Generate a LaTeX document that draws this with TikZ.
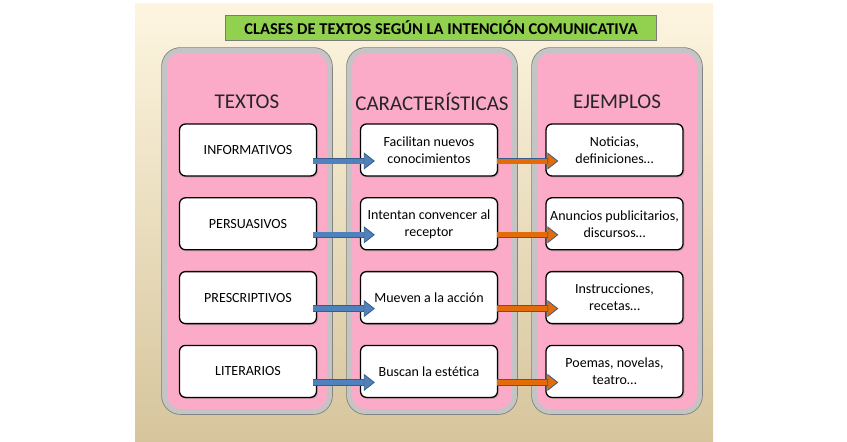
\documentclass[tikz,border=0pt]{standalone}
\usepackage{fontspec}
\setmainfont{Carlito}
\usetikzlibrary{arrows.meta,positioning,shadows}

\definecolor{bgtop}{HTML}{FDF5E0}
\definecolor{bgbot}{HTML}{D6C59C}
\definecolor{titlegreen}{HTML}{92D050}
\definecolor{pinkfill}{HTML}{FBABC8}
\definecolor{colgray}{HTML}{C4C4C4}
\definecolor{colline}{HTML}{7A7A7A}
\definecolor{bluefill}{HTML}{4F81BD}
\definecolor{blueline}{HTML}{385D8A}
\definecolor{orangefill}{HTML}{E36C09}

\begin{document}
\begin{tikzpicture}[x=1pt, y=-1pt, every node/.style={font=\fontsize{14}{17}\selectfont},
  colbox/.style={draw=colgray, line width=5pt, fill=pinkfill, rounded corners=16pt, minimum width=165pt, minimum height=361pt,
    preaction={draw=colline, line width=6.5pt}},
  head/.style={font=\fontsize{21}{24}\selectfont, text=black!85},
  item/.style={draw, line width=1.3pt, rounded corners=6pt, fill=white, align=center, minimum width=137pt, minimum height=52pt,
    drop shadow={opacity=0.3, shadow xshift=1.5pt, shadow yshift=-1.5pt}},
  barrow/.style={draw=blueline, line width=0.8pt, double=bluefill, double distance=5pt, -{Triangle[length=11pt, width=17pt, fill=bluefill]}},
  oarrow/.style={draw=blueline, line width=0.8pt, double=orangefill, double distance=5pt, -{Triangle[length=11pt, width=17pt, fill=orangefill]}}]
\useasboundingbox (0,0) rectangle (847,442);
\shade[top color=bgtop, bottom color=bgbot] (135,3) rectangle (713,442);
\node[draw=colline, fill=titlegreen, minimum width=431pt, minimum height=25pt, font=\bfseries\fontsize{16.5}{18}\selectfont] (title) at (441,28) {CLASES DE TEXTOS SEGÚN LA INTENCIÓN COMUNICATIVA};
\node[colbox] (col1) at (247,231) {};
\node[colbox] (col2) at (432,231) {};
\node[colbox] (col3) at (617,231) {};
\node[head] (htex) at (247,102) {TEXTOS};
\node[head] (hcar) at (432,102) {CARACTERÍSTICAS};
\node[head] (hej) at (617,102) {EJEMPLOS};
% textos
\node[item] (inf) at (248,150) {INFORMATIVOS};
\node[item, below=20.5pt of inf] (per) {PERSUASIVOS};
\node[item, below=20.5pt of per] (pre) {PRESCRIPTIVOS};
\node[item, below=20.5pt of pre] (lit) {LITERARIOS};
% caracteristicas
\node[item] (fac) at (429,150) {Facilitan nuevos\\conocimientos};
\node[item, below=20.5pt of fac] (inte) {Intentan convencer al\\receptor};
\node[item, below=20.5pt of inte] (mue) {Mueven a la acción};
\node[item, below=20.5pt of mue] (bus) {Buscan la estética};
% ejemplos
\node[item] (noti) at (614.5,150) {Noticias,\\definiciones…};
\node[item, below=20.5pt of noti] (anun) {Anuncios publicitarios,\\discursos…};
\node[item, below=20.5pt of anun] (inst) {Instrucciones,\\recetas…};
\node[item, below=20.5pt of inst] (poem) {Poemas, novelas,\\teatro…};
\foreach \a/\b in {inf/fac,per/inte,pre/mue,lit/bus}{\draw[barrow] ([xshift=-4pt,yshift=-11pt]\a.east) -- ([xshift=15pt,yshift=-11pt]\b.west);}
\foreach \a/\b in {fac/noti,inte/anun,mue/inst,bus/poem}{\draw[oarrow] ([xshift=-1pt,yshift=-11pt]\a.east) -- ([xshift=13pt,yshift=-11pt]\b.west);}
\end{tikzpicture}
\end{document}
